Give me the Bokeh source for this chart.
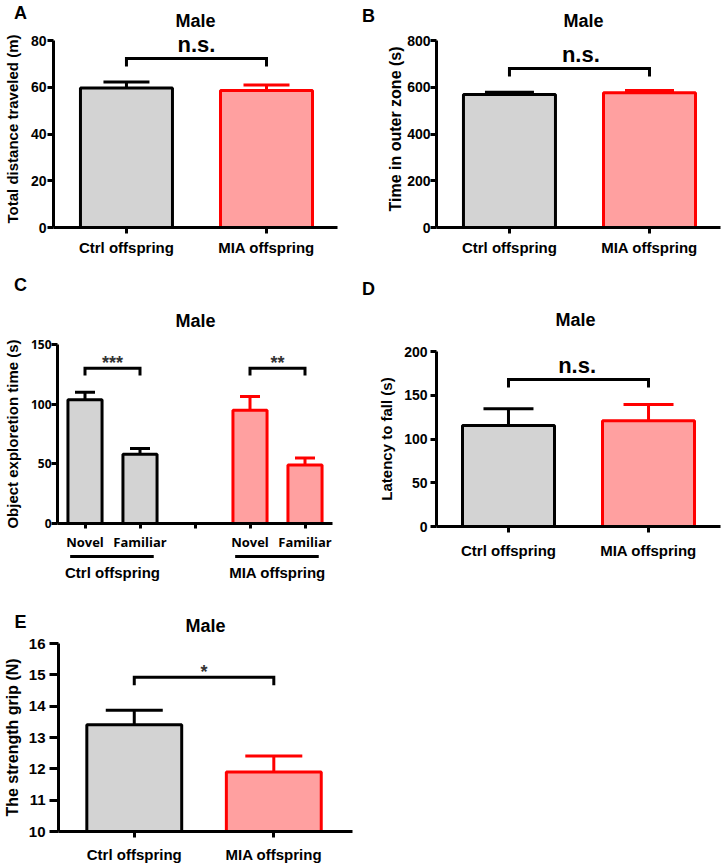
from bokeh.plotting import figure
from bokeh.models import Range1d, FixedTicker, Whisker, TeeHead, ColumnDataSource
from bokeh.layouts import column, row
from bokeh.embed import file_html
from bokeh.resources import INLINE
from bokeh.core.properties import value

# ---------------- data ----------------
groups = ["Ctrl offspring", "MIA offspring"]

distance_mean = [59.7, 58.6]
distance_sem = [2.5, 2.4]

outer_mean = [569, 576]
outer_sem = [10, 10]

explore_labels = ["Novel", "Familiar", "", "Novel", "Familiar"]
explore_ctrl_mean = [103.7, 58.1]
explore_ctrl_sem = [6.3, 4.7]
explore_mia_mean = [95.0, 49.1]
explore_mia_sem = [11.4, 5.7]

latency_mean = [115.4, 121.0]
latency_sem = [19.1, 18.4]

grip_mean = [13.41, 11.90]
grip_sem = [0.46, 0.51]

panel_letters = ["A", "B", "C", "D", "E"]
panel_title = "Male"

# ---------------- style ----------------
FONT = "Liberation Sans"
FONT_C = "Open Sans"
GREY_FILL, GREY_LINE = "#d3d3d3", "#000000"
RED_FILL, RED_LINE = "#ffa0a0", "#ff0000"
TOTAL_W = 722


def make_fig(w, h, bl, br, bt, bb, xr, yr, ybounds, yticks, ylabel, ylab_size, ytick_size,
             xtick_size="15px", ylab_standoff=5, ytick_standoff=1, xtick_standoff=5,
             ytick_out=6, tick_font=FONT, xtick_font=FONT, ylab_font=FONT):
    p = figure(width=w, height=h, x_range=Range1d(*xr), y_range=Range1d(*yr),
               output_backend="svg", toolbar_location=None,
               min_border_left=bl, min_border_right=br,
               min_border_top=bt, min_border_bottom=bb)
    p.outline_line_color = None
    p.grid.visible = False
    for ax in (p.xaxis[0], p.yaxis[0]):
        ax.axis_line_width = 3
        ax.axis_line_color = "black"
        ax.major_tick_line_width = 3
        ax.major_tick_line_color = "black"
        ax.major_tick_in = 0
        ax.major_tick_out = 6
        ax.minor_tick_line_color = None
        ax.major_label_text_font_style = "bold"
        ax.major_label_text_color = "black"
    p.yaxis.bounds = ybounds
    p.yaxis.major_tick_out = ytick_out
    p.yaxis.ticker = FixedTicker(ticks=yticks)
    p.yaxis.major_label_text_font = tick_font
    p.yaxis.major_label_text_font_size = ytick_size
    p.yaxis.major_label_standoff = ytick_standoff
    p.yaxis.axis_label = ylabel
    p.yaxis.axis_label_text_font = ylab_font
    p.yaxis.axis_label_text_font_size = ylab_size
    p.yaxis.axis_label_text_font_style = "bold"
    p.yaxis.axis_label_text_color = "black"
    p.yaxis.axis_label_standoff = ylab_standoff
    p.xaxis.major_label_text_font = xtick_font
    p.xaxis.major_label_text_font_size = xtick_size
    p.xaxis.major_label_standoff = xtick_standoff
    return p


def bars(p, xs, means, sems, width, fills, lines, cap, bottom=0):
    src = ColumnDataSource(dict(x=xs, top=means,
                                upper=[m + s for m, s in zip(means, sems)],
                                fill=fills, line=lines))
    p.vbar(x="x", top="top", bottom=bottom, width=width, source=src,
           fill_color="fill", line_color="line", line_width=3)
    for i in range(len(xs)):
        s = ColumnDataSource(dict(x=[xs[i]], lo=[means[i]], hi=[src.data["upper"][i]]))
        p.add_layout(Whisker(base="x", lower="lo", upper="hi", source=s,
                             dimension="height", line_width=3, line_color=lines[i],
                             lower_head=None,
                             upper_head=TeeHead(size=cap, line_width=3,
                                                line_color=lines[i])))


def bracket(p, x1, x2, y, drop):
    p.line([x1, x1, x2, x2], [y - drop, y, y, y - drop], line_width=3,
           line_color="black", line_join="miter")


def label(p, x, y, text, size, color="black", font=FONT):
    p.text(x=[x], y=[y], text=[text], text_font=value(font), text_font_size=size,
           text_font_style="bold", text_align="center", text_baseline="middle",
           text_color=color)


def header(h, xs, ys, texts):
    """Strip above a row of panels holding the panel letters and titles."""
    p = figure(width=TOTAL_W, height=h, x_range=Range1d(0, TOTAL_W),
               y_range=Range1d(h, 0), output_backend="svg", toolbar_location=None,
               x_axis_location=None, y_axis_location=None,
               min_border_left=0, min_border_right=0, min_border_top=0,
               min_border_bottom=0)
    p.outline_line_color = None
    p.grid.visible = False
    p.text(x=xs, y=ys, text=texts, text_font=value(FONT), text_font_size="18px",
           text_font_style="bold", text_align="center", text_baseline="middle",
           text_color="black")
    return p


pos2 = [1, 2]
fills2 = [GREY_FILL, RED_FILL]
lines2 = [GREY_LINE, RED_LINE]

# ---------------- row 1 ----------------
h1 = header(30, [20, 195, 368, 583], [12, 20, 15, 20],
            [panel_letters[0], panel_title, panel_letters[1], panel_title])

pA = make_fig(363, 235, 53, 26, 0, 38, (0.479, 2.507), (0, 84.28), (0, 80),
              [0, 20, 40, 60, 80], "Total distance traveled (m)", "15px", "14px",
              ylab_standoff=7)
pA.xaxis.ticker = FixedTicker(ticks=pos2)
pA.xaxis.major_label_overrides = {1: groups[0], 2: groups[1]}
bars(pA, pos2, distance_mean, distance_sem, 0.657, fills2, lines2, 46)
bracket(pA, 1, 2, 72.3, 3.4)
label(pA, 1.5, 78.1, "n.s.", "22px")

pB = make_fig(359, 235, 73, 2, 0, 38, (0.479, 2.507), (0, 842.8), (0, 800),
              [0, 200, 400, 600, 800], "Time in outer zone (s)", "16px", "14px",
              ylab_standoff=0, ytick_standoff=0)
pB.xaxis.ticker = FixedTicker(ticks=pos2)
pB.xaxis.major_label_overrides = {1: groups[0], 2: groups[1]}
bars(pB, pos2, outer_mean, outer_sem, 0.657, fills2, lines2, 49)
bracket(pB, 1, 2, 680, 34)
label(pB, 1.51, 738, "n.s.", "22px")

# ---------------- row 2 ----------------
h2 = header(70, [20, 195, 368, 575], [19, 55, 23, 54],
            [panel_letters[2], panel_title, panel_letters[3], panel_title])

pC = make_fig(363, 218, 56, 31, 9, 25, (0.5, 5.5), (0, 150), (0, 150), [0, 50, 100, 150],
              "Object exploretion time (s)", "15px", "12px", xtick_size="13px",
              ylab_standoff=7, ytick_standoff=0, tick_font=FONT_C, xtick_font=FONT_C,
              xtick_standoff=4)
pC.xaxis.ticker = FixedTicker(ticks=[1, 2, 3, 4, 5])
pC.xaxis.major_label_overrides = {i + 1: t for i, t in enumerate(explore_labels)}
pC.xaxis.major_tick_out = 5
bars(pC, [1, 2], explore_ctrl_mean, explore_ctrl_sem, 0.62, [GREY_FILL] * 2,
     [GREY_LINE] * 2, 20)
bars(pC, [4, 5], explore_mia_mean, explore_mia_sem, 0.62, [RED_FILL] * 2,
     [RED_LINE] * 2, 20)
bracket(pC, 1, 2, 130, 6)
bracket(pC, 4, 5, 130, 6)
label(pC, 1.5, 134.4, "***", "18px", color="#333333")
label(pC, 4.5, 134.4, "**", "18px", color="#333333")

# group labels under panel C
group_pos = [1.5, 4.5]
pCs = figure(width=363, height=32, x_range=pC.x_range, y_range=Range1d(0, 1),
             output_backend="svg", toolbar_location=None,
             x_axis_location=None, y_axis_location=None,
             min_border_left=56, min_border_right=31, min_border_top=0,
             min_border_bottom=0)
pCs.outline_line_color = None
pCs.grid.visible = False
pCs.segment(x0=[g - 0.77 for g in group_pos], x1=[g + 0.75 for g in group_pos],
            y0=0.91, y1=0.91, line_width=3, line_color="black")
pCs.text(x=group_pos, y=0.42, text=groups, text_font=value(FONT),
         text_font_size="15px", text_font_style="bold", text_align="center",
         text_baseline="middle", text_color="black")

pD = make_fig(359, 250, 73, 2, 16, 59, (0.486, 2.514), (0, 200), (0, 200),
              [0, 50, 100, 150, 200], "Latency to fall (s)", "15px", "14px",
              ylab_standoff=6, ytick_standoff=3, xtick_standoff=9)
pD.xaxis.ticker = FixedTicker(ticks=pos2)
pD.xaxis.major_label_overrides = {1: groups[0], 2: groups[1]}
bars(pD, pos2, latency_mean, latency_sem, 0.657, fills2, lines2, 50)
bracket(pD, 1, 2, 168, 9)
label(pD, 1.49, 183.5, "n.s.", "22px")

# ---------------- row 3 ----------------
h3 = header(50, [20, 205], [36, 40], [panel_letters[4], panel_title])

pE = make_fig(362, 230, 57, 10, 8, 34, (0.457, 2.564), (10, 16), (10, 16),
              [10, 11, 12, 13, 14, 15, 16], "The strength grip (N)", "16px", "15px",
              ylab_standoff=5, ytick_standoff=4, ytick_out=9, xtick_standoff=8)
pE.xaxis.ticker = FixedTicker(ticks=pos2)
pE.xaxis.major_label_overrides = {1: groups[0], 2: groups[1]}
bars(pE, pos2, grip_mean, grip_sem, 0.68, fills2, lines2, 57, bottom=10)
bracket(pE, 1, 2, 14.92, 0.25)
label(pE, 1.5, 15.08, "*", "18px", color="#333333")

layout = column(h1, row(pA, pB), h2, row(column(pC, pCs), pD), h3, row(pE))

with open("out.html", "w") as f:
    f.write(file_html(layout, INLINE))
